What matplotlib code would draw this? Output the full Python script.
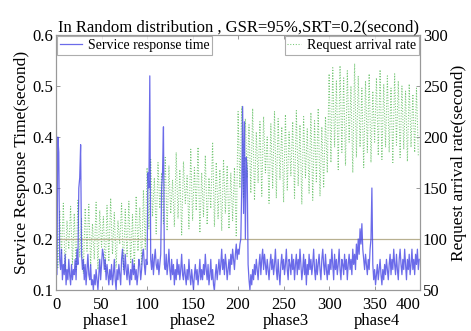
import numpy as np
import matplotlib
matplotlib.use("Agg")
import matplotlib.pyplot as plt
from matplotlib.transforms import blended_transform_factory

plt.rcParams['font.family'] = ['Liberation Serif', 'DejaVu Serif']

title = "In Random distribution , GSR=95%,SRT=0.2(second)"
left_label = "Service Response Time(second)"
right_label = "Request arrival rate(second)"
legend_left = "Service response time"
legend_right = "Request arrival rate"
phase_labels = ["phase1", "phase2", "phase3", "phase4"]
phase_pos = [55, 150, 252, 352]
x_ticks = [0, 50, 100, 150, 200, 250, 300, 350, 400]
left_ticks = [0.1, 0.2, 0.3, 0.4, 0.5, 0.6]
right_ticks = [50, 100, 150, 200, 250, 300]
srt_threshold = 0.2

# service response time, one value per time step (0..399)
srt = [
    0.60, 0.13, 0.40, 0.37, 0.16, 0.14, 0.18, 0.12, 0.15, 0.13, 0.17, 0.11, 0.14, 0.12, 0.16, 0.13, 0.11, 0.15, 0.12, 0.14,
    0.13, 0.16, 0.12, 0.18, 0.15, 0.30, 0.32, 0.385, 0.17, 0.14, 0.16, 0.12, 0.15, 0.11, 0.14, 0.17, 0.13, 0.12, 0.15, 0.11,
    0.12, 0.10, 0.13, 0.11, 0.14, 0.12, 0.10, 0.13, 0.16, 0.12, 0.15, 0.18, 0.17, 0.14, 0.16, 0.12, 0.15, 0.13, 0.11, 0.14,
    0.12, 0.15, 0.11, 0.13, 0.16, 0.12, 0.10, 0.14, 0.12, 0.15, 0.13, 0.11, 0.16, 0.18, 0.15, 0.13, 0.17, 0.14, 0.12, 0.15,
    0.13, 0.11, 0.14, 0.12, 0.16, 0.13, 0.15, 0.12, 0.14, 0.11, 0.13, 0.16, 0.15, 0.12, 0.14, 0.17, 0.18, 0.15, 0.13, 0.16,
    0.15, 0.33, 0.30, 0.52, 0.16, 0.14, 0.17, 0.13, 0.16, 0.18, 0.15, 0.14, 0.16, 0.13, 0.15, 0.17, 0.30, 0.33, 0.42, 0.15,
    0.14, 0.17, 0.13, 0.15, 0.18, 0.14, 0.12, 0.16, 0.13, 0.15, 0.11, 0.14, 0.12, 0.16, 0.13, 0.15, 0.12, 0.14, 0.17, 0.13,
    0.12, 0.15, 0.13, 0.11, 0.14, 0.12, 0.16, 0.13, 0.11, 0.14, 0.12, 0.10, 0.13, 0.15, 0.12, 0.14, 0.11, 0.13, 0.16, 0.12,
    0.14, 0.12, 0.15, 0.13, 0.17, 0.14, 0.12, 0.15, 0.11, 0.13, 0.16, 0.12, 0.14, 0.11, 0.10, 0.13, 0.15, 0.12, 0.14, 0.16,
    0.13, 0.15, 0.18, 0.14, 0.16, 0.13, 0.17, 0.15, 0.12, 0.14, 0.16, 0.13, 0.17, 0.15, 0.18, 0.16, 0.14, 0.17, 0.19, 0.16,
    0.18, 0.17, 0.19, 0.20, 0.30, 0.46, 0.25, 0.43, 0.20, 0.36, 0.33, 0.15, 0.12, 0.10, 0.13, 0.11, 0.14, 0.12, 0.15, 0.13,
    0.16, 0.14, 0.12, 0.15, 0.17, 0.13, 0.16, 0.18, 0.14, 0.17, 0.15, 0.13, 0.16, 0.14, 0.12, 0.15, 0.17, 0.14, 0.16, 0.13,
    0.15, 0.18, 0.14, 0.12, 0.16, 0.13, 0.11, 0.15, 0.17, 0.14, 0.16, 0.13, 0.15, 0.18, 0.14, 0.12, 0.16, 0.15, 0.13, 0.17,
    0.14, 0.16, 0.12, 0.15, 0.17, 0.13, 0.16, 0.14, 0.18, 0.15, 0.12, 0.14, 0.17, 0.13, 0.16, 0.11, 0.15, 0.13, 0.17, 0.14,
    0.16, 0.13, 0.15, 0.18, 0.14, 0.12, 0.16, 0.13, 0.15, 0.17, 0.14, 0.12, 0.16, 0.18, 0.15, 0.13, 0.17, 0.14, 0.12, 0.15,
    0.13, 0.16, 0.14, 0.18, 0.15, 0.12, 0.17, 0.14, 0.16, 0.13, 0.15, 0.18, 0.14, 0.12, 0.16, 0.15, 0.13, 0.17, 0.14, 0.16,
    0.12, 0.15, 0.17, 0.14, 0.16, 0.13, 0.18, 0.15, 0.17, 0.14, 0.19, 0.16, 0.20, 0.17, 0.22, 0.19, 0.23, 0.18, 0.16, 0.14,
    0.17, 0.15, 0.13, 0.16, 0.14, 0.18, 0.20, 0.30, 0.15, 0.12, 0.14, 0.11, 0.13, 0.15, 0.12, 0.14, 0.16, 0.13, 0.11, 0.14,
    0.12, 0.15, 0.13, 0.16, 0.14, 0.12, 0.15, 0.17, 0.13, 0.16, 0.14, 0.18, 0.15, 0.13, 0.17, 0.14, 0.12, 0.16, 0.18, 0.15,
    0.13, 0.16, 0.14, 0.18, 0.15, 0.12, 0.16, 0.14, 0.17, 0.13, 0.15, 0.18, 0.14, 0.16, 0.13, 0.17, 0.15, 0.18, 0.14, 0.16,
]

# request arrival rate, one value every 2 time steps
rate_phase1 = [140, 72, 128, 85, 135, 68, 118, 90, 132, 75, 125, 70, 138, 82, 120, 66, 130, 88, 134, 74,
               115, 80, 136, 70, 128, 92, 122, 68, 133, 78, 140, 85, 126, 72, 118, 95, 135, 70, 129, 83,
               137, 76, 124, 69, 142, 88, 131, 74, 148, 90]
rate_phase2 = [170, 110, 178, 122, 160, 105, 175, 130, 165, 115, 180, 108, 172, 125, 158, 112, 185, 120, 168, 104,
               176, 135, 162, 110, 188, 118, 170, 128, 190, 106, 165, 122, 182, 114, 160, 130, 195, 112, 175, 120,
               168, 108, 178, 125, 172, 110, 165, 118, 170, 102]
rate_phase3 = [225, 150, 230, 140, 218, 160, 212, 145, 228, 138, 205, 155, 215, 142, 220, 165, 200, 135, 213, 150,
               225, 140, 218, 158, 210, 136, 222, 148, 205, 162, 215, 140, 226, 152, 212, 134, 220, 160, 208, 145,
               224, 138, 216, 155, 228, 142, 210, 150, 220, 165]
rate_phase4 = [262, 175, 268, 190, 255, 168, 270, 185, 258, 172, 265, 195, 250, 165, 272, 180, 260, 190, 248, 170,
               255, 185, 262, 175, 245, 195, 258, 182, 266, 178, 252, 190, 260, 185, 248, 175, 262, 192, 255, 180,
               250, 188, 245, 176, 252, 190, 242, 185, 248, 182]

rate = rate_phase1 + rate_phase2 + rate_phase3 + rate_phase4
t_srt = np.arange(len(srt))
t_rate = np.arange(len(rate)) * 2

fig = plt.figure(figsize=(4.71, 3.31), dpi=100)
ax = fig.add_axes([0.119, 0.124, 0.773, 0.770])
ax2 = ax.twinx()

blue = '#4646e4'
green = '#78c878'

l2, = ax2.plot(t_rate, rate, color=green, lw=0.75, ls=':', label=legend_right)
ax.set_zorder(ax2.get_zorder() + 1)
ax.patch.set_visible(False)
ax.axhline(srt_threshold, color='#b8b090', lw=0.9, zorder=1)
l1, = ax.plot(t_srt, srt, color=blue, lw=0.9, alpha=0.8, label=legend_left, zorder=2)

ax.set_xlim(0, 400)
ax.set_ylim(0.1, 0.6)
ax2.set_ylim(50, 300)
ax.set_xticks(x_ticks)
ax.set_yticks(left_ticks)
ax2.set_yticks(right_ticks)
ax.set_yticklabels([f"{v:.1f}" for v in left_ticks])

for a in (ax, ax2):
    a.tick_params(direction='in', labelsize=12, length=3, width=0.6, colors='#888888', labelcolor='black')
    for s in a.spines.values():
        s.set_color('#999999')
        s.set_linewidth(0.8)
ax.tick_params(axis='x', top=True, pad=5)
ax.tick_params(axis='y', pad=2)
ax2.tick_params(axis='y', pad=2)
for lab in ax2.get_yticklabels():
    lab.set_verticalalignment('center_baseline')
xlabs = ax.get_xticklabels()
xlabs[-1].set_horizontalalignment('right')

ax.set_title(title, fontsize=12, pad=3)
ax.set_ylabel(left_label, fontsize=12.5, labelpad=2)
ax2.set_ylabel(right_label, fontsize=12.5, labelpad=2)

tr = blended_transform_factory(ax.transData, ax.transAxes)
for p, lab in zip(phase_pos, phase_labels):
    ax.text(p, -0.12, lab, transform=tr, ha='center', va='center', fontsize=12)

leg1 = ax.legend(handles=[l1], loc='upper left', fontsize=10, frameon=True, fancybox=False,
                 borderaxespad=0.1, handlelength=1.6, handletextpad=0.4, borderpad=0.2)
leg1.get_frame().set_edgecolor('#999999')
leg1.get_frame().set_linewidth(0.8)
leg2 = ax.legend(handles=[l2], loc='upper right', fontsize=10, frameon=True, fancybox=False,
                 borderaxespad=0.1, handlelength=1.0, handletextpad=0.4, borderpad=0.2)
leg2.get_frame().set_edgecolor('#999999')
leg2.get_frame().set_linewidth(0.8)
ax.add_artist(leg1)

fig.savefig('out.png', dpi=100)
